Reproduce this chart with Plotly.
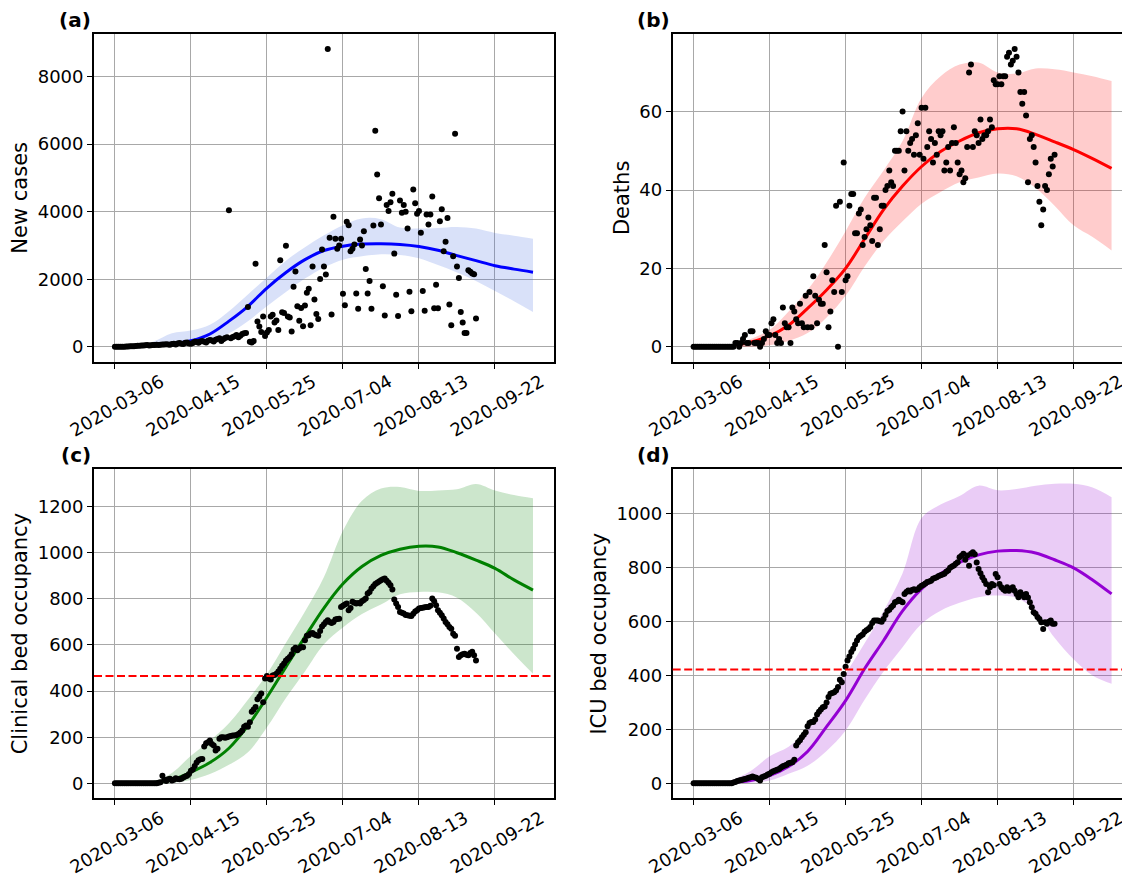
import pandas as pd
import plotly.graph_objects as go

START = "2020-03-06"

# ---- observed daily data (from 2020-03-06) ----
cases = [
    0, 0, 0, 0, 5, 5, 10, 10, 15, 20,
    20, 25, 30, 30, 35, 40, 45, 50, 40, 45,
    50, 55, 60, 50, 60, 70, 65, 75, 70, 60,
    80, 90, 70, 100, 110, 90, 80, 120, 130, 100,
    90, 110, 150, 140, 120, 160, 170, 150, 130, 180,
    200, 190, 160, 210, 230, 250, 170, 220, 260, 280,
    4040, 250, 290, 310, 350, 280, 330, 380, 400, 410,
    1180, 150, 130, 170, 2460, 750, 600, 440, 900, 320,
    420, 500, 900, 950, 720, 780, 500, 2560, 1020, 1000,
    2990, 900, 870, 450, 1780, 2230, 1200, 770, 1150, 610,
    1220, 1600, 1720, 640, 2380, 1400, 970, 820, 2010, 2880,
    2380, 2140, 8820, 3230, 960, 3850, 3200, 2900, 3000, 3200,
    1570, 1230, 3700, 3600, 2830, 2900, 3030, 1580, 1130, 3180,
    3000, 3420, 2300, 1580, 1950, 1130, 3590, 6400, 5100, 4400,
    3620, 1790, 930, 4200, 4020, 4280, 4530, 2760, 1540, 910,
    4330, 3970, 4200, 4000, 3500, 1630, 1050, 4660, 4250, 3940,
    4020, 3380, 1650, 1070, 3920, 3620, 3920, 4450, 1140, 1840,
    1140, 3720, 4070, 2830, 3110, 3810, 1250, 640, 2680, 6310,
    2380, 2040, 1030, 720, 410, 410, 2270, 2220, 2170, 2150,
    840,
]

deaths = [
    0, 0, 0, 0, 0, 0, 0, 0, 0, 0,
    0, 0, 0, 0, 0, 0, 0, 0, 0, 0,
    0, 0, 1, 1, 0, 1, 2, 3, 1, 1,
    4, 4, 1, 1, 1, 0, 1, 2, 4, 3,
    3, 6, 7, 3, 1, 2, 1, 10, 6, 5,
    5, 1, 10, 9, 7, 6, 11, 6, 5, 13,
    5, 14, 5, 18, 13, 6, 12, 11, 11, 26,
    19, 5, 9, 17, 14, 36, 0, 37, 14, 47,
    17, 18, 36, 39, 39, 29, 29, 34, 35, 26,
    28, 30, 33, 31, 27, 38, 38, 26, 30, 36,
    36, 40, 41, 45, 42, 41, 50, 50, 50, 55,
    60, 45, 55, 50, 52, 53, 49, 54, 57, 49,
    61, 48, 61, 51, 55, 53, 47, 52, 49, 55,
    54, 55, 45, 47, 51, 45, 52, 56, 52, 47,
    44, 45, 42, 43, 51, 70, 72, 51, 55, 54,
    52, 58, 53, 54, 54, 55, 58, 56, 68, 67,
    67, 69, 67, 69, 69, 74, 75, 72, 73, 76,
    74, 70, 65, 62, 65, 59, 42, 53, 54, 51,
    47, 41, 37, 31, 35, 41, 40, 44, 48, 46,
    49,
]

clinical = [
    0, 0, 0, 0, 0, 0, 0, 0, 0, 0,
    0, 0, 0, 0, 0, 0, 0, 0, 0, 0,
    0, 0, 0, 2, 5, 33, 15, 10, 18, 20,
    12, 15, 22, 19, 18, 20, 25, 30, 33, 40,
    55, 60, 75, 90, 100, 104, 105, 160, 174, 178,
    186, 170, 164, 142, 150, 193, 200, 200, 198, 200,
    203, 205, 207, 207, 210, 214, 220, 229, 245, 251,
    245, 265, 310, 320, 331, 365, 375, 390, 352, 455,
    465, 455, 450, 468, 470, 475, 485, 497, 510, 520,
    533, 540, 548, 560, 580, 588, 577, 585, 591, 590,
    620, 640, 642, 650, 652, 645, 642, 640, 660, 680,
    690, 700, 707, 700, 695, 700, 710, 712, 714, 765,
    770, 775, 780, 751, 760, 787, 783, 780, 782, 780,
    790, 795, 801, 823, 830, 845, 855, 864, 870, 875,
    881, 885, 888, 878, 870, 859, 840, 797, 780, 765,
    743, 740, 736, 730, 729, 727, 725, 735, 745, 751,
    758, 760, 761, 763, 765, 765, 770, 801, 790, 772,
    751, 740, 729, 715, 700, 690, 678, 670, 649, 640,
    584, 548, 555, 560, 562, 558, 555, 565, 570, 555,
    533,
]

icu = [
    0, 0, 0, 0, 0, 0, 0, 0, 0, 0,
    0, 0, 0, 0, 0, 0, 0, 0, 0, 0,
    0, 3, 5, 8, 10, 12, 14, 16, 18, 20,
    22, 25, 22, 20, 16, 10, 22, 25, 28, 32,
    35, 41, 44, 47, 50, 53, 58, 63, 66, 69,
    74, 76, 78, 87, 140, 152, 160, 171, 180, 189,
    212, 224, 227, 227, 237, 255, 265, 274, 282, 285,
    300, 320, 332, 335, 338, 344, 357, 384, 375, 406,
    433, 456, 471, 487, 499, 515, 530, 542, 548, 552,
    563, 568, 573, 580, 595, 604, 604, 604, 602, 600,
    610, 625, 640, 644, 654, 660, 672, 675, 681, 676,
    672, 703, 710, 716, 712, 718, 720, 718, 720, 728,
    733, 737, 742, 747, 749, 752, 759, 762, 765, 770,
    772, 775, 778, 785, 790, 800, 805, 809, 815, 821,
    839, 845, 852, 830, 846, 808, 852, 858, 850, 820,
    796, 780, 765, 753, 740, 709, 728, 740, 735, 777,
    765, 740, 728, 720, 715, 728, 715, 722, 728, 715,
    703, 691, 709, 700, 691, 703, 690, 672, 654, 635,
    629, 617, 610, 598, 573, 598, 592, 600, 604, 592,
    592,
]

# ---- model curves (every 10 days from 2020-03-06) ----
model_days = [0, 10, 20, 30, 40, 50, 60, 70, 80, 90, 100, 110,
              120, 130, 140, 150, 160, 170, 180, 190, 200, 210, 220]

cases_mid = [0, 10, 35, 90, 180, 380, 760, 1200, 1740, 2200, 2580, 2850,
             2980, 3040, 3050, 3030, 2970, 2860, 2700, 2550, 2400, 2300, 2210]
cases_hi = [10, 40, 150, 400, 480, 650, 1050, 1550, 2050, 2550, 2950, 3300,
            3600, 3800, 3780, 3530, 3500, 3520, 3550, 3500, 3370, 3290, 3200]
cases_lo = [0, 2, 15, 40, 90, 170, 400, 760, 1200, 1620, 2020, 2350,
            2580, 2680, 2740, 2720, 2620, 2420, 2200, 1950, 1650, 1350, 1030]

deaths_mid = [0, 0.1, 0.3, 1.2, 2.8, 5.5, 9.8, 14.5, 20, 27.5, 35, 41,
              46, 49.8, 52.5, 54.6, 55.6, 55.6, 54.2, 52.3, 50.3, 48, 45.5]
deaths_hi = [0, 0.1, 0.6, 2, 4.3, 9, 14.5, 21.5, 29.5, 38, 45, 52.5,
             63.5, 69, 72, 72.5, 70, 69.7, 71, 70.8, 70, 69, 67.8]
deaths_lo = [0, 0, 0, 0, 0.4, 1.5, 3.5, 7.5, 13, 20.5, 27, 32,
             36.5, 39.5, 42, 43.2, 44.2, 43.5, 40.5, 36, 31, 28, 24.6]

clinical_mid = [0, 1, 4, 15, 48, 90, 152, 250, 373, 505, 635, 760,
                865, 940, 988, 1015, 1028, 1025, 1000, 968, 932, 882, 838]
clinical_hi = [0, 1, 8, 45, 120, 185, 260, 362, 474, 610, 745, 895,
               1095, 1225, 1278, 1285, 1268, 1270, 1275, 1298, 1270, 1250, 1236]
clinical_lo = [0, 0, 0, 1, 14, 40, 80, 135, 243, 370, 485, 603,
               676, 734, 775, 820, 830, 828, 805, 740, 650, 560, 475]

icu_mid = [0, 0.5, 3, 10, 28, 62, 118, 210, 307, 425, 530, 640,
           722, 778, 820, 848, 862, 864, 855, 830, 800, 755, 703]
icu_hi = [0, 2, 12, 45, 100, 135, 200, 290, 406, 520, 640, 780,
          985, 1035, 1067, 1105, 1088, 1093, 1105, 1112, 1112, 1098, 1062]
icu_lo = [0, 0, 0, 2, 10, 35, 65, 120, 196, 310, 415, 505,
          592, 641, 670, 691, 697, 688, 640, 540, 460, 400, 369]

clinical_capacity = 465
icu_capacity = 422

tick_dates = ["2020-03-06", "2020-04-15", "2020-05-25",
              "2020-07-04", "2020-08-13", "2020-09-22"]

y_titles = ["New cases", "Deaths", "Clinical bed occupancy", "ICU bed occupancy"]
panel_tags = ["(a)", "(b)", "(c)", "(d)"]
y_ticks = [[0, 2000, 4000, 6000, 8000], [0, 20, 40, 60],
           [0, 200, 400, 600, 800, 1000, 1200], [0, 200, 400, 600, 800, 1000]]
y_ranges = [[-441, 9261], [-3.8, 79.8], [-65, 1363], [-56, 1167]]

# ---- styling / geometry ----
OFF = 8                      # page margin around the figure in the browser
WIN_W, WIN_H = 1130, 877
W, H = WIN_W - OFF, WIN_H - OFF
FONT = "DejaVu Sans"
line_colors = ["#0000ff", "#ff0000", "#008000", "#9400d3"]
band_colors = ["rgba(65,105,225,0.2)", "rgba(255,0,0,0.2)",
               "rgba(0,128,0,0.2)", "rgba(148,0,211,0.2)"]
GRID = "#a8a8a8"

start = pd.Timestamp(START)
obs_dates = [pd.date_range(START, periods=len(s), freq="D")
             for s in (cases, deaths, clinical, icu)]
model_dates = [start + pd.Timedelta(days=d) for d in model_days]


def ts(days):
    return (start + pd.Timedelta(days=days)).strftime("%Y-%m-%d %H:%M:%S")


def px_x(p):
    return min(1.0, (p - OFF) / W)


def px_y(p):
    return 1 - (p - OFF) / H


# window-pixel geometry of the four axes boxes
x_dom_px = [(94, 554), (672.7, 1130), (94, 554), (672.7, 1130)]
y_dom_px = [(34, 361.7), (34, 361.7), (469, 798.3), (469, 798.3)]
x_right_days = [231.05, 229.7, 231.05, 229.7]

mids = [cases_mid, deaths_mid, clinical_mid, icu_mid]
his = [cases_hi, deaths_hi, clinical_hi, icu_hi]
los = [cases_lo, deaths_lo, clinical_lo, icu_lo]
obs = [cases, deaths, clinical, icu]

fig = go.Figure()
layout = dict(
    width=W, height=H,
    margin=dict(l=0, r=0, t=0, b=0, autoexpand=False),
    paper_bgcolor="white", plot_bgcolor="white",
    showlegend=False,
    font=dict(family=FONT, color="black", size=18),
    annotations=[], shapes=[],
)

for i in range(4):
    sfx = "" if i == 0 else str(i + 1)
    xa, ya = "x" + sfx, "y" + sfx
    fig.add_trace(go.Scatter(x=model_dates, y=los[i], xaxis=xa, yaxis=ya,
                             mode="lines", line=dict(width=0, shape="spline"),
                             hoverinfo="skip"))
    fig.add_trace(go.Scatter(x=model_dates, y=his[i], xaxis=xa, yaxis=ya,
                             mode="lines", line=dict(width=0, shape="spline"),
                             fill="tonexty", fillcolor=band_colors[i],
                             hoverinfo="skip"))
    fig.add_trace(go.Scatter(x=model_dates, y=mids[i], xaxis=xa, yaxis=ya,
                             mode="lines",
                             line=dict(width=3, color=line_colors[i], shape="spline")))
    fig.add_trace(go.Scatter(x=obs_dates[i], y=obs[i], xaxis=xa, yaxis=ya,
                             mode="markers",
                             marker=dict(size=6, color="black", line=dict(width=0))))

    x0p, x1p = x_dom_px[i]
    y0p, y1p = y_dom_px[i]
    layout["xaxis" + sfx] = dict(
        domain=[px_x(x0p), px_x(x1p)], anchor=ya, type="date",
        range=[ts(-11), ts(x_right_days[i])],
        tickvals=tick_dates, ticktext=tick_dates, tickangle=-30,
        ticklabelshift=46, ticklabelstandoff=-4,
        tickfont=dict(family=FONT, size=18, color="black"),
        showline=True, linecolor="black", linewidth=1.8, mirror=True,
        ticks="outside", ticklen=5, tickwidth=1.4, tickcolor="black",
        showgrid=True, gridcolor=GRID, gridwidth=1.2, zeroline=False,
        automargin=False,
    )
    layout["yaxis" + sfx] = dict(
        domain=[px_y(y1p), px_y(y0p)], anchor=xa,
        range=y_ranges[i], tickvals=y_ticks[i],
        tickfont=dict(family=FONT, size=18, color="black"),
        showline=True, linecolor="black", linewidth=1.8,
        mirror=(i % 2 == 0),
        ticks="outside", ticklen=5, tickwidth=1.4, tickcolor="black",
        showgrid=True, gridcolor=GRID, gridwidth=1.2, zeroline=False,
        automargin=False,
        title=dict(text=y_titles[i], font=dict(family=FONT, size=21, color="black"),
                   standoff=4),
    )
    layout["annotations"].append(dict(
        text="<b>" + panel_tags[i] + "</b>", xref="paper", yref="paper",
        x=px_x(x0p - 1), y=px_y(y0p - 13.5), xanchor="right", yanchor="middle",
        showarrow=False, font=dict(family=FONT, size=20, color="black")))

for i, cap in ((2, clinical_capacity), (3, icu_capacity)):
    sfx = str(i + 1)
    layout["shapes"].append(dict(
        type="line", xref="x" + sfx + " domain", yref="y" + sfx,
        x0=0, x1=1, y0=cap, y1=cap,
        line=dict(color="red", width=2, dash="8px,3.5px")))

fig.update_layout(**layout)
fig.write_html("out.html")
